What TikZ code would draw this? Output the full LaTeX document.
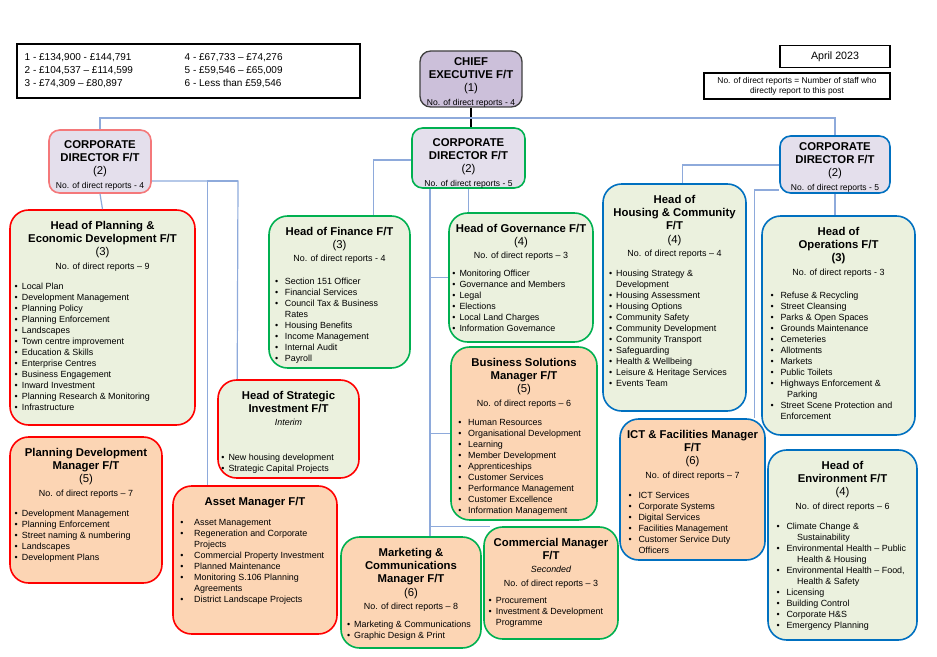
\documentclass[tikz,border=0pt]{standalone}
\usepackage{fontspec}
\setmainfont{Liberation Sans}
\usepackage{enumitem}
\usepackage{tikz}
\usetikzlibrary{positioning, calc}
\definecolor{chiefFill}{RGB}{204,192,218}
\definecolor{dirFill}{RGB}{228,223,236}
\definecolor{headFill}{RGB}{235,241,222}
\definecolor{mgrFill}{RGB}{252,213,180}
\definecolor{redLine}{RGB}{255,0,0}
\definecolor{softRed}{RGB}{244,120,122}
\definecolor{greenLine}{RGB}{0,176,80}
\definecolor{blueLine}{RGB}{0,112,192}
\definecolor{linkBlue}{RGB}{142,170,219}
\newcommand{\ttl}{\bfseries}
\newcommand{\rep}{\fontsize{6.7}{8.25}\selectfont}
\newcommand{\dirrep}{\fontsize{6.4}{8}\selectfont}
\newenvironment{duties}[1][]{\par\rep\raggedright
  \begin{itemize}[nosep,topsep=7pt,leftmargin=8pt,labelsep=3pt,label=\textbullet,#1]\raggedright}{\end{itemize}}
\def\postgap{8.5pt}
% box from corner (x1,y1) to (x2,y2) in pixels, text hung from the top
\newcommand{\orgpost}[7]{%
  \pgfmathsetmacro{\postw}{(#5-#3)*0.75}%
  \pgfmathsetmacro{\posth}{(#6-#4)*0.75}%
  \pgfmathsetmacro{\postt}{(#5-#3-5)*0.75}%
  \node[#2, minimum width=\postw pt, minimum height=\posth pt] (#1) at ({(#3+#5)/2},{(#4+#6)/2}) {};%
  \node[posttext, text width=\postt pt] at ([yshift=-\postgap]#1.north) {#7};%
}
\begin{document}
\begin{tikzpicture}[
    x=0.75pt, y=-0.75pt,
    post/.style={draw, line width=1.2pt, rounded corners=14pt, inner sep=0pt},
    director/.style={post, rounded corners=8pt, fill=dirFill},
    chiefbox/.style={draw=black!75, line width=1pt, rounded corners=8pt, fill=chiefFill, inner sep=0pt},
    head/.style={post, fill=headFill},
    manager/.style={post, fill=mgrFill},
    posttext/.style={anchor=north, inner sep=0pt, align=flush center, font=\fontsize{8.5}{10}\selectfont},
    plain box/.style={draw, line width=0.8pt, inner sep=0pt},
    link/.style={draw=linkBlue, line width=0.9pt}
]
    \useasboundingbox (0,0) rectangle (937,656);

    % legend and notes
    \node[plain box, minimum width=257.25pt, minimum height=40.5pt] (legend) at (188.5,71) {};
    \node[anchor=west, inner sep=0pt, font=\fontsize{7.5}{9.4}\selectfont] (bands) at ([xshift=6pt]legend.west) {%
      \begin{tabular}{@{}p{120pt}@{}l@{}}
        1 - £134,900 - £144,791 & 4 - £67,733 -- £74,276\\
        2 - £104,537 -- £114,599 & 5 - £59,546 -- £65,009\\
        3 - £74,309 -- £80,897 & 6 - Less than £59,546
      \end{tabular}};
    \node[plain box, minimum width=82.5pt, minimum height=17pt, font=\fontsize{8}{9}\selectfont] (date) at (835,56.5) {April 2023};
    \node[plain box, minimum width=139.5pt, minimum height=19.5pt, align=center, font=\fontsize{6.3}{7.6}\selectfont] (note) at (797,86)
      {No. of direct reports = Number of staff who\\directly report to this post};

    % top of the structure
    \def\postgap{5pt}
    \orgpost{chief}{chiefbox}{420}{51}{522}{107}{{\ttl CHIEF\\EXECUTIVE F/T}\\(1)\\{\dirrep No. of direct reports - 4}}
    \def\postgap{8pt}
    \orgpost{cdA}{director, draw=softRed}{49}{130}{151}{193}{{\ttl CORPORATE\\DIRECTOR F/T}\\(2)\\{\dirrep No. of direct reports - 4}}
    \orgpost{cdB}{director, draw=greenLine}{412}{128}{525}{188}{{\ttl CORPORATE\\DIRECTOR F/T}\\(2)\\{\dirrep No. of direct reports - 5}}
    \def\postgap{5pt}
    \orgpost{cdC}{director, draw=blueLine}{780}{136}{890}{193}{{\ttl CORPORATE\\DIRECTOR F/T}\\(2)\\{\dirrep No. of direct reports - 5}}
    \def\postgap{8.5pt}

    % first directorate
    \orgpost{plan}{head, draw=redLine}{10}{210}{195}{425}{{\ttl Head of Planning \&\\Economic Development F/T}\\(3)\\{\rep No. of direct reports -- 9}\par
      \begin{duties}[leftmargin=7pt]
        \item Local Plan \item Development Management \item Planning Policy \item Planning Enforcement
        \item Landscapes \item Town centre improvement \item Education \& Skills \item Enterprise Centres
        \item Business Engagement \item Inward Investment \item Planning Research \& Monitoring \item Infrastructure
      \end{duties}}
    \orgpost{plandev}{manager, draw=redLine}{10}{437}{162}{583}{{\ttl Planning Development\\Manager F/T}\\(5)\\{\rep No. of direct reports -- 7}\par
      \begin{duties}[leftmargin=7pt]
        \item Development Management \item Planning Enforcement \item Street naming \& numbering
        \item Landscapes \item Development Plans
      \end{duties}}
    \orgpost{strat}{head, draw=redLine}{218}{380}{359}{478}{{\ttl Head of Strategic\\Investment F/T}\\{\rep\itshape Interim}\par
      \begin{duties}[topsep=18pt,leftmargin=6pt]
        \item New housing development \item Strategic Capital Projects
      \end{duties}}
    \orgpost{asset}{manager, draw=redLine}{173}{486}{337}{634}{{\ttl Asset Manager F/T}\par
      \begin{duties}[leftmargin=14pt,labelsep=8pt]
        \item Asset Management \item Regeneration and Corporate\newline Projects \item Commercial Property Investment
        \item Planned Maintenance \item Monitoring S.106 Planning\newline Agreements \item District Landscape Projects
      \end{duties}}

    % second directorate
    \orgpost{fin}{head, draw=greenLine}{269}{216}{410}{368}{{\ttl Head of Finance F/T}\\(3)\\{\rep No. of direct reports - 4}\par
      \begin{duties}[topsep=9pt,leftmargin=10pt,labelsep=5pt]
        \item Section 151 Officer \item Financial Services \item Council Tax \& Business\newline Rates
        \item Housing Benefits \item Income Management \item Internal Audit \item Payroll
      \end{duties}}
    \orgpost{gov}{head, draw=greenLine}{449}{213}{593}{342}{{\ttl Head of Governance F/T}\\(4)\\{\rep No. of direct reports -- 3}\par
      \begin{duties}[topsep=5pt,leftmargin=6pt]
        \item Monitoring Officer \item Governance and Members \item Legal \item Elections
        \item Local Land Charges \item Information Governance
      \end{duties}}
    \orgpost{bussol}{manager, draw=greenLine}{451}{347}{597}{520}{{\ttl Business Solutions\\Manager F/T}\\(5)\\{\rep No. of direct reports -- 6}\par
      \begin{duties}[topsep=6pt,leftmargin=11pt,labelsep=5pt]
        \item Human Resources \item Organisational Development \item Learning \item Member Development
        \item Apprenticeships \item Customer Services \item Performance Management
        \item Customer Excellence \item Information Management
      \end{duties}}
    \orgpost{mkt}{manager, draw=greenLine}{341}{537}{481}{648}{{\ttl Marketing \&\\Communications\\Manager F/T}\\(6)\\{\rep No. of direct reports -- 8}\par
      \begin{duties}[topsep=5pt,leftmargin=8pt,labelsep=3pt]
        \item Marketing \& Communications \item Graphic Design \& Print
      \end{duties}}
    \orgpost{com}{manager, draw=greenLine}{484}{527}{618}{639}{{\ttl Commercial Manager\\F/T}\\{\rep\itshape Seconded}\\{\rep No. of direct reports -- 3}\par
      \begin{duties}[topsep=5pt,leftmargin=7pt]
        \item Procurement \item Investment \& Development\newline Programme
      \end{duties}}

    % third directorate
    \orgpost{house}{head, draw=blueLine}{603}{184}{746}{411}{{\ttl Head of\\Housing \& Community\\F/T}\\(4)\\{\rep No. of direct reports -- 4}\par
      \begin{duties}[topsep=7pt,leftmargin=8pt]
        \item Housing Strategy \&\newline Development \item Housing Assessment \item Housing Options
        \item Community Safety \item Community Development \item Community Transport
        \item Safeguarding \item Health \& Wellbeing \item Leisure \& Heritage Services \item Events Team
      \end{duties}}
    \orgpost{ops}{head, draw=blueLine}{762}{216}{915}{435}{{\ttl Head of\\Operations F/T}\\\textbf{(3)}\\{\rep No. of direct reports - 3}\par
      \begin{duties}[topsep=9pt,leftmargin=12pt,labelsep=5pt]
        \item Refuse \& Recycling \item Street Cleansing \item Parks \& Open Spaces \item Grounds Maintenance
        \item Cemeteries \item Allotments \item Markets \item Public Toilets
        \item Highways Enforcement \&\newline\hspace*{5pt}Parking \item Street Scene Protection and\newline Enforcement
      \end{duties}}
    \orgpost{ict}{manager, draw=blueLine}{620}{419}{765}{560}{{\ttl ICT \& Facilities Manager\\F/T}\\(6)\\{\rep No. of direct reports -- 7}\par
      \begin{duties}[topsep=7pt,leftmargin=12pt,labelsep=5pt]
        \item ICT Services \item Corporate Systems \item Digital Services \item Facilities Management
        \item Customer Service Duty\newline Officers
      \end{duties}}
    \orgpost{env}{head, draw=blueLine}{768}{450}{917}{640}{{\ttl Head of\\Environment F/T}\\(4)\\{\rep No. of direct reports -- 6}\par
      \begin{duties}[topsep=7pt,leftmargin=12pt,labelsep=5pt]
        \item Climate Change \&\newline\hspace*{8pt}Sustainability
        \item Environmental Health -- Public\newline\hspace*{8pt}Health \& Housing
        \item Environmental Health -- Food,\newline\hspace*{8pt}Health \& Safety
        \item Licensing \item Building Control \item Corporate H\&S \item Emergency Planning
      \end{duties}}

    % connectors
    \coordinate (bus) at (470,118);
    \coordinate (armA) at (238,181);
    \coordinate (armB) at (0,160);
    \coordinate (spine) at (430,0);
    \coordinate (armC) at (0,165);
    \coordinate (armD) at (754,190);
    \draw[line width=0.9pt] (chief.south) -- (chief.south |- cdB.north);
    \draw[link] (cdA.north) |- (bus) -| (cdC.north);
    \draw[link] (cdA.south) -- (plan.north);
    \draw[link] (cdA.east |- armA) -- (armA) -- ([xshift=15pt]strat.north west);
    \draw[link] ([xshift=26.25pt]asset.north west) |- (armA);
    \draw[link] (cdB.west |- armB) -| ([xshift=-27.75pt]fin.north east);
    \draw[link] (cdB.south) -- (cdB.south |- gov.north);
    \draw[link] (cdB.south -| spine) -- (spine |- mkt.north);
    \draw[link] (spine |- gov.west) -- (gov.west);
    \draw[link] (spine |- bussol.west) -- (bussol.west);
    \draw[link] (spine |- com.north) -- ([xshift=5pt]com.north west);
    \draw[link] (cdC.west |- armC) -| ([xshift=6pt]house.north);
    \draw[link] (cdC.west |- armD) -| ([xshift=-8.25pt]ict.north east);
    \draw[link] (cdC.south) -- (cdC.south |- ops.north);
\end{tikzpicture}
\end{document}
